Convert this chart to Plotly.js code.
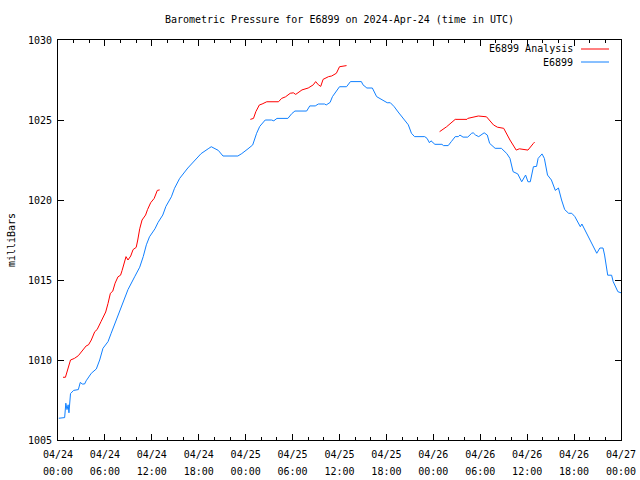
<!DOCTYPE html>
<html>
<head>
<meta charset="utf-8">
<script src="https://cdn.plot.ly/plotly-3.0.1.min.js"></script>
<style>html,body{margin:0;padding:0;background:#fff}#chart{width:640px;height:480px}</style>
</head>
<body>
<div id="chart"></div>
<script>
// hours since 2024-04-24 00:00 UTC
const stationHours = [0.1,0.85,1.0,1.15,1.3,1.4,1.6,2.0,2.6,2.85,3.1,3.4,3.6,4.26,4.9,5.33,5.75,6.4,6.8,7.46,7.9,8.5,8.95,9.8,10.45,10.9,11.3,11.7,12.4,12.8,13.4,13.8,14.5,14.9,15.56,16.6,17.5,18.3,19.2,19.6,20.5,20.9,21.1,23.0,23.5,24.3,24.9,25.4,25.8,26.5,27.3,27.6,28.0,29.4,29.9,30.3,31.8,32.2,32.9,33.3,34.1,34.3,34.8,35.1,35.4,36.0,36.9,37.4,38.8,39.0,39.5,40.2,40.75,41.6,42.1,42.5,43.0,43.5,44.2,44.8,45.2,45.6,46.9,47.2,47.5,47.7,48.2,49.1,49.3,49.9,50.3,50.8,51.2,51.4,51.8,52.4,52.9,53.1,53.4,53.8,54.5,54.9,55.2,55.9,56.7,57.4,57.8,58.2,58.8,59.3,59.8,60.1,60.4,60.8,61.2,61.4,61.9,62.2,62.6,63.1,63.6,64.0,64.4,64.8,65.3,65.7,66.1,66.8,67.0,67.4,67.8,68.5,68.9,69.3,69.7,69.9,70.3,70.8,71.0,71.6,72.0];
const stationPressure = [1006.36,1006.4,1007.3,1006.9,1007.2,1006.7,1007.9,1008.1,1008.15,1008.6,1008.5,1008.5,1008.7,1009.17,1009.44,1010.0,1010.73,1011.15,1011.67,1012.5,1013.1,1013.75,1014.4,1015.2,1015.8,1016.46,1017.2,1017.7,1018.2,1018.6,1019.06,1019.6,1020.2,1020.73,1021.35,1022.0,1022.5,1022.9,1023.2,1023.33,1023.1,1022.9,1022.75,1022.75,1022.9,1023.2,1023.44,1024.17,1024.6,1025.0,1025.0,1024.95,1025.1,1025.1,1025.4,1025.56,1025.56,1025.88,1025.88,1026.0,1026.0,1025.94,1026.1,1026.46,1026.67,1027.08,1027.08,1027.4,1027.4,1027.2,1027.0,1027.0,1026.46,1026.25,1026.08,1026.08,1025.83,1025.5,1025.1,1024.7,1024.17,1023.96,1023.96,1023.85,1023.58,1023.7,1023.48,1023.48,1023.4,1023.4,1023.65,1023.96,1023.96,1024.06,1023.93,1023.93,1024.17,1024.2,1024.06,1023.96,1024.2,1024.06,1023.54,1023.23,1023.23,1022.9,1022.6,1021.77,1021.63,1021.14,1021.56,1021.14,1021.14,1022.08,1022.1,1022.6,1022.88,1022.6,1021.56,1021.25,1020.6,1020.75,1020.0,1019.4,1019.17,1019.17,1018.96,1018.33,1018.5,1018.1,1017.7,1017.0,1016.67,1017.0,1017.0,1016.56,1015.3,1015.3,1014.9,1014.27,1014.2];

const analysisHours1 = [0.64,0.95,1.6,2.1,2.6,3.0,3.6,3.9,4.26,4.7,5.0,5.5,5.9,6.1,6.4,6.7,7.0,7.3,7.67,8.0,8.2,8.5,8.7,8.95,9.3,9.6,10.0,10.2,10.45,10.75,11.2,11.45,11.85,12.3,12.7,13.0];
const analysisPressure1 = [1008.92,1008.92,1010.0,1010.1,1010.27,1010.5,1010.88,1010.95,1011.25,1011.77,1011.9,1012.4,1012.8,1013.0,1013.54,1014.17,1014.3,1014.8,1015.2,1015.3,1015.6,1016.15,1016.46,1016.25,1016.5,1016.9,1017.04,1017.5,1018.2,1018.75,1019.06,1019.4,1019.83,1020.1,1020.6,1020.63];
const analysisHours2 = [24.6,25.0,25.3,25.75,26.1,26.7,28.2,28.6,29.1,29.7,30.1,30.4,31.2,32.0,32.65,32.95,33.3,33.6,33.9,34.6,35.0,35.6,36.0,36.9];
const analysisPressure2 = [1025.04,1025.1,1025.52,1025.94,1026.0,1026.14,1026.14,1026.35,1026.45,1026.67,1026.7,1026.6,1026.88,1027.0,1027.2,1027.4,1027.2,1027.1,1027.54,1027.71,1027.75,1027.92,1028.33,1028.4];
const analysisHours3 = [48.8,49.7,50.8,52.3,52.4,53.75,54.8,55.7,56.2,57.0,57.8,58.6,59.0,60.1,60.8,60.95];
const analysisPressure3 = [1024.27,1024.58,1025.04,1025.04,1025.1,1025.25,1025.2,1024.69,1024.55,1024.48,1023.75,1023.12,1023.2,1023.12,1023.54,1023.62];

// tick labels: hour offset -> date line / time line
const xTickHours = ["0","6","12","18","24","30","36","42","48","54","60","66","72"];
const xTickDates = ["04/24","04/24","04/24","04/24","04/25","04/25","04/25","04/25","04/26","04/26","04/26","04/26","04/27"];
const xTickTimes = ["00:00","06:00","12:00","18:00","00:00","06:00","12:00","18:00","00:00","06:00","12:00","18:00","00:00"];

const RED = "#ff0000", BLUE = "#1080ff";
const FONT = {family: "DejaVu Sans Mono, monospace", size: 10, color: "#000"};

const dateAlias = {}, timeAlias = {};
xTickHours.forEach((h, i) => { dateAlias[h] = xTickDates[i]; timeAlias[h] = xTickTimes[i]; });

const analysisX = analysisHours1.concat([null], analysisHours2, [null], analysisHours3);
const analysisY = analysisPressure1.concat([null], analysisPressure2, [null], analysisPressure3);

const traces = [
  {x: analysisX, y: analysisY, type: "scatter", mode: "lines", name: "E6899 Analysis",
   line: {color: RED, width: 1}, connectgaps: false, hoverinfo: "skip"},
  {x: stationHours, y: stationPressure, type: "scatter", mode: "lines", name: "E6899",
   line: {color: BLUE, width: 1}, hoverinfo: "skip"},
  // empty carriers so the time-label axis and the minor-tick axis are drawn
  {x: [], y: [], xaxis: "x2", yaxis: "y", type: "scatter", mode: "lines", showlegend: false, hoverinfo: "skip"},
  {x: [], y: [], xaxis: "x3", yaxis: "y", type: "scatter", mode: "lines", showlegend: false, hoverinfo: "skip"}
];

const layout = {
  width: 640, height: 480,
  margin: {l: 58, r: 19, t: 40, b: 40},
  paper_bgcolor: "#fff", plot_bgcolor: "#fff",
  font: FONT,
  showlegend: false,
  title: {text: "Barometric Pressure for E6899 on 2024-Apr-24 (time in UTC)", font: FONT,
          xref: "paper", x: 0.5, xanchor: "center", yref: "container", y: 0.96, yanchor: "middle"},
  xaxis3: {range: [0, 72], overlaying: "x", anchor: "y", side: "bottom", tickmode: "linear",
           tick0: 0, dtick: 2, showticklabels: false, ticks: "inside", ticklen: 3, tickwidth: 1,
           tickcolor: "#000", showline: true, linecolor: "#000", linewidth: 1, mirror: "ticks",
           showgrid: false, zeroline: false},
  xaxis: {range: [0, 72], tickmode: "linear", tick0: 0, dtick: 6, labelalias: dateAlias,
          ticks: "inside", ticklen: 6, tickwidth: 1, tickcolor: "#000", showline: true, linecolor: "#000",
          linewidth: 1, mirror: "ticks", showgrid: false, zeroline: false, tickfont: FONT,
          ticklabelstandoff: 5},
  xaxis2: {range: [0, 72], overlaying: "x", anchor: "y", side: "bottom", tickmode: "linear",
           tick0: 0, dtick: 6, labelalias: timeAlias, ticks: "", showline: false, showgrid: false,
           zeroline: false, tickfont: FONT, ticklabelstandoff: 24},
  yaxis: {range: [1005, 1030], tickmode: "linear", tick0: 1005, dtick: 5, ticks: "inside", ticklen: 6,
          tickcolor: "#000", showline: true, linecolor: "#000", linewidth: 1, mirror: "ticks",
          showgrid: false, zeroline: false, tickfont: FONT, ticklabelstandoff: 3,
          title: {text: "milliBars", font: FONT, standoff: 10}},
  annotations: [
    {text: "E6899 Analysis", xref: "paper", yref: "paper", x: 0.9183, y: 0.9775, xanchor: "right", yanchor: "middle", showarrow: false, font: FONT},
    {text: "E6899", xref: "paper", yref: "paper", x: 0.9183, y: 0.945, xanchor: "right", yanchor: "middle", showarrow: false, font: FONT}
  ],
  shapes: [
    {type: "line", xref: "paper", yref: "paper", x0: 0.929, x1: 0.9787, y0: 0.9775, y1: 0.9775, line: {color: RED, width: 1}},
    {type: "line", xref: "paper", yref: "paper", x0: 0.929, x1: 0.9787, y0: 0.945, y1: 0.945, line: {color: BLUE, width: 1}}
  ]
};

Plotly.newPlot("chart", traces, layout, {displayModeBar: false, staticPlot: true});
</script>
</body>
</html>
